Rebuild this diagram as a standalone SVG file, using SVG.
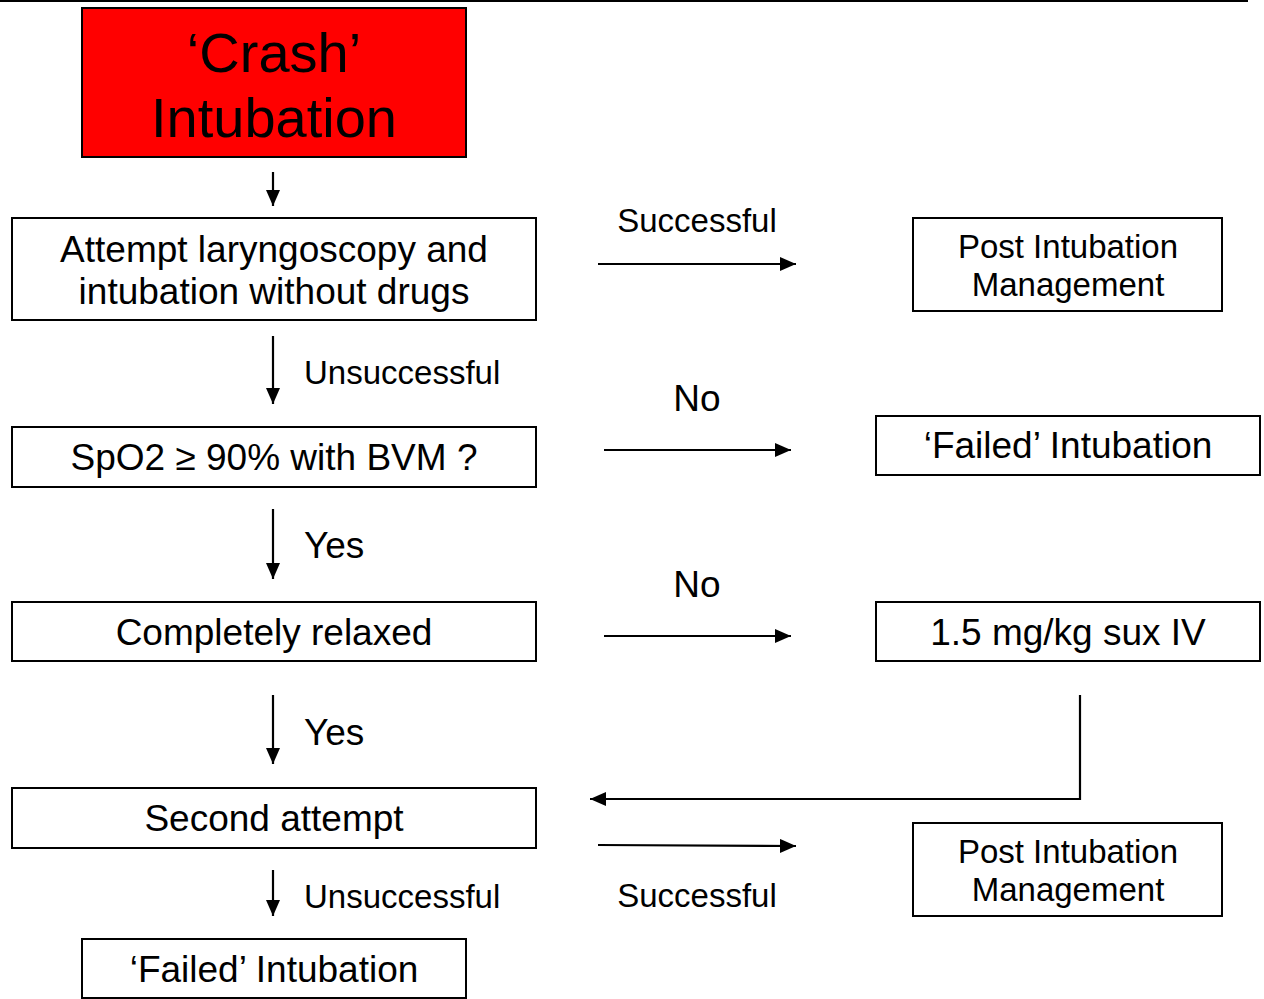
<svg xmlns="http://www.w3.org/2000/svg" width="1264" height="999" viewBox="0 0 1264 999">
<style>
.box{fill:#fff;stroke:#000;stroke-width:2}
.t{font-family:"Liberation Sans",Arial,sans-serif;fill:#000}
.c{text-anchor:middle}
.f37{font-size:37px}
.f33{font-size:33px}
.conn{stroke:#000;stroke-width:2.2;fill:none}
</style>
<defs>
<marker id="ah" viewBox="0 0 16 14" refX="16" refY="7" markerWidth="16" markerHeight="14" markerUnits="userSpaceOnUse" orient="auto">
<path d="M0,0 L16,7 L0,14 z" fill="#000"/>
</marker>
</defs>
<rect width="1264" height="999" fill="#fff"/>
<line x1="0" y1="1" x2="1248" y2="1" stroke="#000" stroke-width="2"/>

<g id="crash">
<rect x="82" y="8" width="384" height="149" fill="#ff0000" stroke="#000" stroke-width="2"/>
<text class="t c" x="274" y="72" font-size="56">‘Crash’</text>
<text class="t c" x="274" y="137" font-size="56">Intubation</text>
</g>
<g id="attempt">
<rect class="box" x="12" y="218" width="524" height="102"/>
<text class="t c f37" x="274" y="262">Attempt laryngoscopy and</text>
<text class="t c f37" x="274" y="304">intubation without drugs</text>
</g>
<g id="post1">
<rect class="box" x="913" y="218" width="309" height="93"/>
<text class="t c f33" x="1068" y="258">Post Intubation</text>
<text class="t c f33" x="1068" y="296">Management</text>
</g>
<g id="spo2">
<rect class="box" x="12" y="427" width="524" height="60"/>
<text class="t c f37" x="274" y="470">SpO2 ≥ 90% with BVM ?</text>
</g>
<g id="failed1">
<rect class="box" x="876" y="416" width="384" height="59"/>
<text class="t c f37" x="1068" y="458">‘Failed’ Intubation</text>
</g>
<g id="relaxed">
<rect class="box" x="12" y="602" width="524" height="59"/>
<text class="t c f37" x="274" y="645">Completely relaxed</text>
</g>
<g id="sux">
<rect class="box" x="876" y="602" width="384" height="59"/>
<text class="t c f37" x="1068" y="645">1.5 mg/kg sux IV</text>
</g>
<g id="second">
<rect class="box" x="12" y="788" width="524" height="60"/>
<text class="t c f37" x="274" y="831">Second attempt</text>
</g>
<g id="post2">
<rect class="box" x="913" y="823" width="309" height="93"/>
<text class="t c f33" x="1068" y="863">Post Intubation</text>
<text class="t c f33" x="1068" y="901">Management</text>
</g>
<g id="failed2">
<rect class="box" x="82" y="939" width="384" height="59"/>
<text class="t c f37" x="274" y="982">‘Failed’ Intubation</text>
</g>

<g id="connectors">
<line class="conn" x1="273" y1="172" x2="273" y2="206" marker-end="url(#ah)"/>
<line class="conn" x1="273" y1="336" x2="273" y2="404" marker-end="url(#ah)"/>
<line class="conn" x1="273" y1="509" x2="273" y2="579" marker-end="url(#ah)"/>
<line class="conn" x1="273" y1="695" x2="273" y2="764" marker-end="url(#ah)"/>
<line class="conn" x1="273" y1="870" x2="273" y2="916" marker-end="url(#ah)"/>
<line class="conn" x1="598" y1="264" x2="796" y2="264" marker-end="url(#ah)"/>
<line class="conn" x1="604" y1="450" x2="791" y2="450" marker-end="url(#ah)"/>
<line class="conn" x1="604" y1="636" x2="791" y2="636" marker-end="url(#ah)"/>
<polyline class="conn" points="1080,695 1080,799 590,799" marker-end="url(#ah)"/>
<line class="conn" x1="598" y1="845" x2="796" y2="846" marker-end="url(#ah)"/>
<text class="t c f33" x="697" y="232">Successful</text>
<text class="t f33" x="304" y="384">Unsuccessful</text>
<text class="t c f37" x="697" y="411">No</text>
<text class="t f37" x="304" y="558">Yes</text>
<text class="t c f37" x="697" y="597">No</text>
<text class="t f37" x="304" y="745">Yes</text>
<text class="t c f33" x="697" y="907">Successful</text>
<text class="t f33" x="304" y="908">Unsuccessful</text>
</g>
</svg>
